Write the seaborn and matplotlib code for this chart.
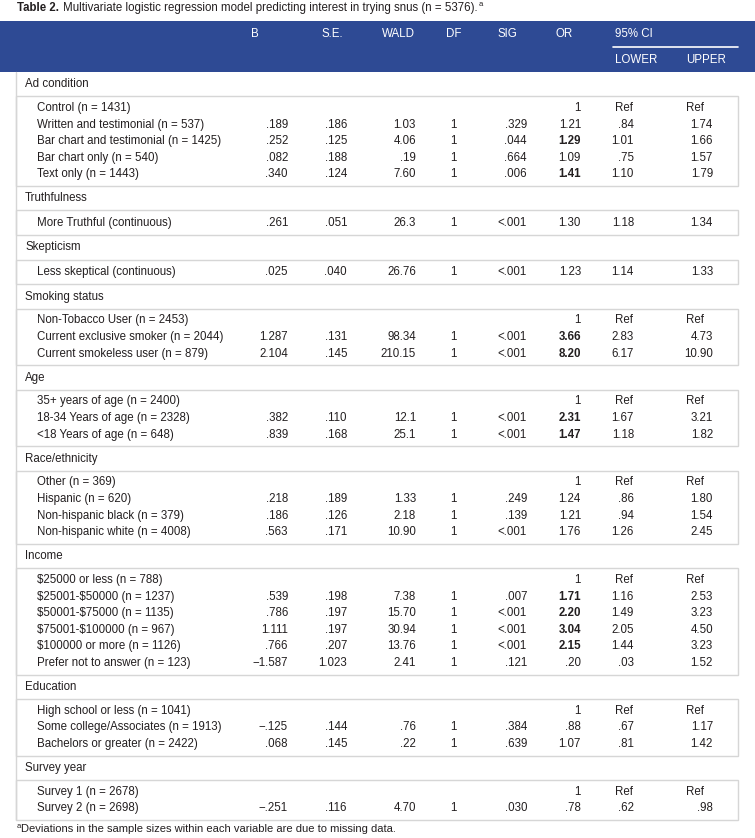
import matplotlib.pyplot as plt
import matplotlib.font_manager as fm
import seaborn as sns
import pandas as pd

# ---- table data ----
groups = ["Ad condition", "Truthfulness", "Skepticism", "Smoking status", "Age",
          "Race/ethnicity", "Income", "Education", "Survey year"]
group_sizes = [5, 1, 1, 3, 3, 4, 6, 3, 2]

labels = [
    "Control (n = 1431)", "Written and testimonial (n = 537)",
    "Bar chart and testimonial (n = 1425)", "Bar chart only (n = 540)", "Text only (n = 1443)",
    "More Truthful (continuous)",
    "Less skeptical (continuous)",
    "Non-Tobacco User (n = 2453)", "Current exclusive smoker (n = 2044)",
    "Current smokeless user (n = 879)",
    "35+ years of age (n = 2400)", "18-34 Years of age (n = 2328)", "<18 Years of age (n = 648)",
    "Other (n = 369)", "Hispanic (n = 620)", "Non-hispanic black (n = 379)",
    "Non-hispanic white (n = 4008)",
    "$25000 or less (n = 788)", "$25001-$50000 (n = 1237)", "$50001-$75000 (n = 1135)",
    "$75001-$100000 (n = 967)", "$100000 or more (n = 1126)", "Prefer not to answer (n = 123)",
    "High school or less (n = 1041)", "Some college/Associates (n = 1913)",
    "Bachelors or greater (n = 2422)",
    "Survey 1 (n = 2678)", "Survey 2 (n = 2698)",
]
b_vals = ["", ".189", ".252", ".082", ".340", ".261", ".025", "", "1.287", "2.104",
          "", ".382", ".839", "", ".218", ".186", ".563", "", ".539", ".786", "1.111", ".766",
          "\u22121.587", "", "\u2212.125", ".068", "", "\u2212.251"]
se_vals = ["", ".186", ".125", ".188", ".124", ".051", ".040", "", ".131", ".145",
           "", ".110", ".168", "", ".189", ".126", ".171", "", ".198", ".197", ".197", ".207",
           "1.023", "", ".144", ".145", "", ".116"]
wald_vals = ["", "1.03", "4.06", ".19", "7.60", "26.3", "26.76", "", "98.34", "210.15",
             "", "12.1", "25.1", "", "1.33", "2.18", "10.90", "", "7.38", "15.70", "30.94",
             "13.76", "2.41", "", ".76", ".22", "", "4.70"]
df_vals = ["", "1", "1", "1", "1", "1", "1", "", "1", "1", "", "1", "1", "", "1", "1", "1",
           "", "1", "1", "1", "1", "1", "", "1", "1", "", "1"]
sig_vals = ["", ".329", ".044", ".664", ".006", "<.001", "<.001", "", "<.001", "<.001",
            "", "<.001", "<.001", "", ".249", ".139", "<.001", "", ".007", "<.001", "<.001",
            "<.001", ".121", "", ".384", ".639", "", ".030"]
or_vals = ["1", "1.21", "1.29", "1.09", "1.41", "1.30", "1.23", "1", "3.66", "8.20",
           "1", "2.31", "1.47", "1", "1.24", "1.21", "1.76", "1", "1.71", "2.20", "3.04",
           "2.15", ".20", "1", ".88", "1.07", "1", ".78"]
or_bold = [0, 0, 1, 0, 1, 0, 0, 0, 1, 1, 0, 1, 1, 0, 0, 0, 0, 0, 1, 1, 1, 1, 0, 0, 0, 0, 0, 0]
lower_vals = ["Ref", ".84", "1.01", ".75", "1.10", "1.18", "1.14", "Ref", "2.83", "6.17",
              "Ref", "1.67", "1.18", "Ref", ".86", ".94", "1.26", "Ref", "1.16", "1.49",
              "2.05", "1.44", ".03", "Ref", ".67", ".81", "Ref", ".62"]
upper_vals = ["Ref", "1.74", "1.66", "1.57", "1.79", "1.34", "1.33", "Ref", "4.73", "10.90",
              "Ref", "3.21", "1.82", "Ref", "1.80", "1.54", "2.45", "Ref", "2.53", "3.23",
              "4.50", "3.23", "1.52", "Ref", "1.17", "1.42", "Ref", ".98"]

headers = ["B", "S.E.", "WALD", "DF", "SIG", "OR"]

table = pd.DataFrame({"label": labels, "B": b_vals, "S.E.": se_vals, "WALD": wald_vals,
                      "DF": df_vals, "SIG": sig_vals, "OR": or_vals, "bold": or_bold,
                      "LOWER": lower_vals, "UPPER": upper_vals})

# ---- style ----
sns.set_theme(style="white")
avail = {f.name for f in fm.fontManager.ttflist}
main_font = "Liberation Sans Narrow" if "Liberation Sans Narrow" in avail else "Liberation Sans"
plt.rcParams["font.family"] = [main_font, "DejaVu Sans"]

BLUE = "#2e4a94"
GRID = "#d6d6d6"
TXT = "#231f20"
FS = 8.3

W, H = 755, 838
fig = plt.figure(figsize=(W / 100, H / 100), dpi=100)
ax = fig.add_axes([0, 0, 1, 1])
ax.set_xlim(0, W)
ax.set_ylim(H, 0)
ax.axis("off")


def txt(x, y, s, **kw):
    kw.setdefault("fontsize", FS)
    kw.setdefault("color", TXT)
    kw.setdefault("va", "center")
    return ax.text(x, y, s, parse_math=False, **kw)


# column layout: (header x, value x, alignment)
col_pos = {"B": (251, 288, "right"), "S.E.": (321, 347, "right"), "WALD": (382, 416, "right"),
           "DF": (446, 453, "center"), "SIG": (497, 527, "right"), "OR": (555, 581, "right")}
LOWER_X, LOWER_R = 615, 634
UPPER_X, UPPER_R = 686, 713
LEFT, RIGHT = 16, 738

# title
t = txt(17, 8, "Table 2.", fontweight="bold", family=["Liberation Sans", "DejaVu Sans"])
fig.canvas.draw()
bb = t.get_window_extent().transformed(ax.transData.inverted())
t2 = txt(bb.x1 + 4, 8, "Multivariate logistic regression model predicting interest in "
         "trying snus (n = 5376).")
fig.canvas.draw()
bb2 = t2.get_window_extent().transformed(ax.transData.inverted())
txt(bb2.x1 + 1, 4, "a", fontsize=5.5)

# header band
ax.axhspan(21, 72, color=BLUE, lw=0)
for h in headers:
    txt(col_pos[h][0], 34, h, color="white")
txt(LOWER_X, 34, "95% CI", color="white")
ax.plot([613, RIGHT], [47, 47], color="white", lw=1.2)
txt(LOWER_X, 60, "LOWER", color="white")
txt(UPPER_X, 60, "UPPER", color="white")

# body
ROW = 16.6
GROUP_H = 24.2
y = 72
i = 0
for g, n in zip(groups, group_sizes):
    txt(25, y + GROUP_H / 2, g)
    top = y + GROUP_H
    box_h = n * ROW + (8.3 if n == 1 else 7)
    ax.add_patch(plt.Rectangle((LEFT, top), RIGHT - LEFT, box_h, fill=False,
                               ec=GRID, lw=1.0))
    ry = top + (box_h - n * ROW) / 2 + ROW / 2
    for k in range(n):
        row = table.iloc[i]
        txt(37, ry, row["label"])
        for h in headers:
            _, xr, ha = col_pos[h]
            txt(xr, ry, row[h], ha=ha,
                fontweight="bold" if (h == "OR" and row["bold"]) else "normal")
        if row["LOWER"] == "Ref":
            txt(LOWER_X, ry, "Ref")
        else:
            txt(LOWER_R, ry, row["LOWER"], ha="right")
        if row["UPPER"] == "Ref":
            txt(UPPER_X, ry, "Ref")
        else:
            txt(UPPER_R, ry, row["UPPER"], ha="right")
        ry += ROW
        i += 1
    y = top + box_h

# continuous left border
ax.plot([LEFT, LEFT], [72, y], color=GRID, lw=1.0)

# footnote
txt(17, 826, "a", fontsize=5.5)
txt(21, 829, "Deviations in the sample sizes within each variable are due to missing data.",
    fontsize=FS - 0.3)

fig.savefig("out.png", dpi=100)
